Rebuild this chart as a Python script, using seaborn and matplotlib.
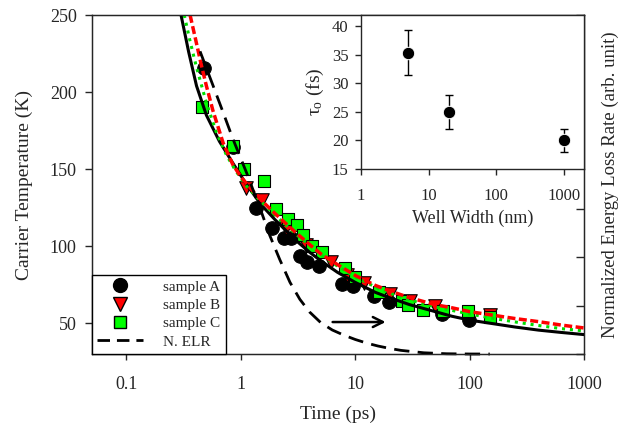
import numpy as np
import pandas as pd
import matplotlib
matplotlib.use("Agg")
import matplotlib.pyplot as plt
import seaborn as sns
from matplotlib.lines import Line2D
from matplotlib.ticker import NullLocator

# measured carrier temperatures (time in ps, temperature in K)
a_time = [0.48, 0.85, 1.37, 1.86, 2.38, 2.75, 3.28, 3.78, 4.81, 7.65, 9.55, 14.6, 19.7, 57.4, 98.8]
a_temp = [215.5, 164.5, 124.5, 112, 105, 105, 93.5, 90, 87, 75.5, 74, 67.5, 63.5, 56, 52]

b_time = [1.12, 1.52, 2.5, 3.7, 6.1, 8.4, 12, 20, 30, 50, 150]
b_temp = [138, 130, 112, 101, 90, 81, 76, 69, 64.5, 61, 55]

c_time = [0.46, 0.85, 1.06, 1.59, 2.05, 2.58, 3.07, 3.5, 4.15, 5.08, 8.1, 9.9, 16,
          25.5, 28.8, 39, 58.5, 97, 150]
c_temp = [190, 165, 150, 142, 124, 117.5, 114, 107.5, 100, 96, 86, 80, 70.5,
          64.5, 61.5, 58.5, 58, 58, 54]

# fitted curves
fit_a_time = [0.30, 0.35, 0.41, 0.50, 0.65, 0.85, 1.1, 1.5, 2.0, 3.0, 4.0, 5.0, 7.0, 10,
              15, 20, 30, 50, 70, 100, 150, 250, 400, 630, 1000]
fit_a_temp = [250, 226, 204, 185, 168, 154, 141, 127, 117, 104, 96, 90.5, 83, 76.5,
              70, 66.5, 62, 57.5, 54.5, 52, 50, 47.5, 45.5, 44, 42.6]

fit_b_time = [0.36, 0.40, 0.45, 0.50, 0.57, 0.70, 0.85, 1.0, 1.2, 1.5, 2.0, 3.0, 4.0, 5.0,
              7.0, 10, 15, 20, 30, 50, 70, 100, 150, 250, 400, 630, 1000]
fit_b_temp = [250, 235, 218, 204, 188, 167, 153, 145, 138, 130, 121, 109, 101, 95,
              88, 81, 74.5, 71, 66.5, 62, 60, 57.5, 55.5, 53, 51, 48.8, 46.9]

fit_c_time = [0.32, 0.36, 0.41, 0.50, 0.61, 0.75, 0.9, 1.12, 1.5, 2.0, 3.0, 4.0, 5.0, 7.0,
              10, 15, 20, 30, 50, 70, 100, 150, 250, 400, 630, 1000]
fit_c_temp = [250, 233, 216, 193, 174, 159, 149, 139, 129, 120, 108, 100.5, 94.5, 87,
              80, 73.5, 69.5, 65, 60.5, 58.3, 56, 53.5, 50.8, 48.5, 46.5, 45]

# normalized energy loss rate (right axis, arb. unit)
elr_time = [0.44, 0.57, 0.71, 0.85, 1.13, 1.53, 1.79, 2.19, 2.69, 3.28, 3.98, 5.01,
            6.31, 7.94, 10, 12.6, 15.8, 20, 25.1, 39.8, 63.1, 100, 150]
elr_value = [1.25, 1.11, 0.99, 0.89, 0.745, 0.58, 0.49, 0.39, 0.296, 0.226, 0.174,
             0.129, 0.099, 0.078, 0.06, 0.045, 0.033, 0.023, 0.015, 0.005, 0.001,
             0.0, 0.0]
arrow_from = (6.0, 0.132)
arrow_to = (19.5, 0.132)

# inset: relaxation time vs well width
well_width = [5, 20, 1000]
tau = [35.4, 25, 20]
tau_err = [4, 3, 2]

sns.set_style("ticks")
plt.rcParams["font.family"] = ["Liberation Serif", "DejaVu Serif"]
plt.rcParams["mathtext.fontset"] = "stix"

fig = plt.figure(figsize=(6.31, 4.28), dpi=100)
ax = fig.add_axes([92 / 631, 74 / 428, 492 / 631, 339 / 428])
rax = ax.twinx()
ins = fig.add_axes([361 / 631, 259 / 428, 223 / 631, 154 / 428])

green = "#00ff00"

sns.scatterplot(x=a_time, y=a_temp, ax=ax, marker="o", color="k", edgecolor="k",
                s=95, linewidth=0.8, zorder=2, legend=False)
sns.scatterplot(x=b_time, y=b_temp, ax=ax, marker="v", color="#ff0000", edgecolor="k",
                s=95, linewidth=0.8, zorder=2, legend=False)
sns.scatterplot(x=c_time, y=c_temp, ax=ax, marker="s", color=green, edgecolor="k",
                s=78, linewidth=0.8, zorder=2, legend=False)

sns.lineplot(x=fit_a_time, y=fit_a_temp, ax=ax, color="k", lw=2.2, sort=False,
             estimator=None, zorder=4)
sns.lineplot(x=fit_c_time, y=fit_c_temp, ax=ax, color="#00dd00", lw=2.2, sort=False,
             estimator=None, zorder=4, linestyle=(0, (1, 1.6)))
sns.lineplot(x=fit_b_time, y=fit_b_temp, ax=ax, color="#ff0000", lw=2.5, sort=False,
             estimator=None, zorder=5, linestyle=(0, (2.3, 1.0)))

ax.set_xscale("log")
ax.set_xlim(0.05, 1000)
ax.set_ylim(30, 250)
ax.set_xticks([0.1, 1, 10, 100, 1000])
ax.set_xticklabels(["0.1", "1", "10", "100", "1000"])
ax.xaxis.set_minor_locator(NullLocator())
ax.set_yticks([50, 100, 150, 200, 250])
ax.tick_params(axis="y", length=5, width=1, pad=6, labelsize=13, right=False)
ax.tick_params(axis="x", length=4, width=1, pad=12, labelsize=13, top=False)
ax.set_xlabel("Time (ps)", fontsize=14, labelpad=9)
ax.set_ylabel("Carrier Temperature (K)", fontsize=14, labelpad=12)
for sp in ax.spines.values():
    sp.set_linewidth(1)

sns.lineplot(x=elr_time, y=elr_value, ax=rax, color="k", lw=2, sort=False,
             estimator=None, linestyle=(0, (5.5, 3)), clip_on=False)
rax.set_ylim(0, 1.4)
rax.set_yticks(np.arange(0, 1.41, 0.2))
rax.set_yticklabels([])
rax.tick_params(axis="y", direction="in", length=6, width=1)
rax.set_ylabel("Normalized Energy Loss Rate (arb. unit)", fontsize=13.5, labelpad=9)
rax.annotate("", xy=arrow_to, xytext=arrow_from,
             arrowprops=dict(arrowstyle="->", color="k", lw=1.8, mutation_scale=18))

handles = [
    Line2D([], [], marker="o", color="k", ls="none", markersize=10),
    Line2D([], [], marker="v", markerfacecolor="#ff0000", markeredgecolor="k",
           ls="none", markersize=10),
    Line2D([], [], marker="s", markerfacecolor=green, markeredgecolor="k",
           ls="none", markersize=9),
    Line2D([], [], color="k", lw=2, linestyle=(0, (4.5, 2.5))),
]
leg = rax.legend(handles, ["sample A", "sample B", "sample C", "N. ELR"],
                 loc="lower left", bbox_to_anchor=(0, 0), borderaxespad=0,
                 fontsize=11, fancybox=False, framealpha=1, edgecolor="k",
                 handlelength=3.0, handletextpad=1.3, labelspacing=0.3,
                 borderpad=0.35)
leg.get_frame().set_linewidth(1)

ins.errorbar(well_width, tau, yerr=tau_err, fmt="none", ecolor="k", elinewidth=1,
             capsize=3, capthick=1)
sns.scatterplot(x=well_width, y=tau, ax=ins, color="k", s=80, zorder=3, legend=False)
ins.set_xscale("log")
ins.set_xlim(1, 2000)
ins.set_ylim(15, 42)
ins.set_xticks([1, 10, 100, 1000])
ins.set_xticklabels(["1", "10", "100", "1000"])
ins.xaxis.set_minor_locator(NullLocator())
ins.set_yticks([15, 20, 25, 30, 35, 40])
ins.tick_params(axis="both", length=4, width=1, labelsize=12)
ins.tick_params(axis="x", pad=10)
ins.tick_params(axis="y", pad=5)
ins.set_xlabel("Well Width (nm)", fontsize=13, labelpad=4)
ins.set_ylabel(r"$\mathregular{\tau_o}$ (fs)", fontsize=14, labelpad=4)
ins.set_facecolor("white")
for sp in ins.spines.values():
    sp.set_linewidth(1)

fig.savefig("out.png", dpi=100)
